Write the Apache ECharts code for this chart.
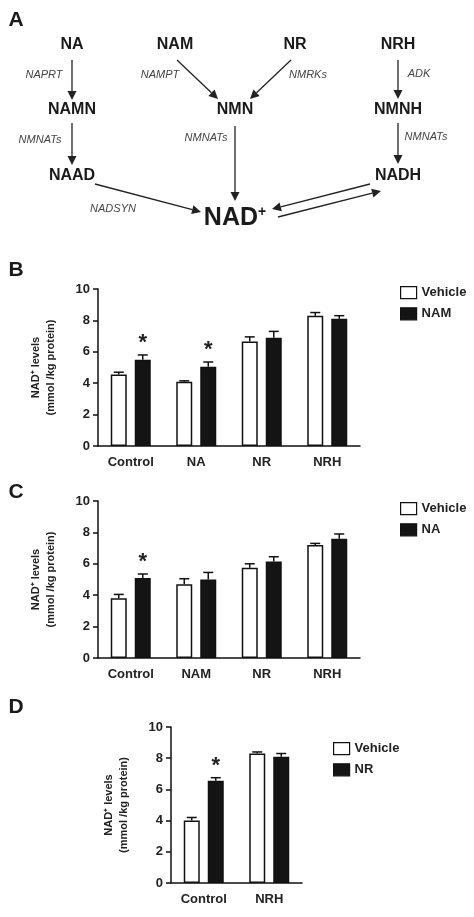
<!DOCTYPE html>
<html>
<head>
<meta charset="utf-8">
<script src="https://cdn.jsdelivr.net/npm/echarts@6/dist/echarts.min.js"></script>
<style>html,body{margin:0;padding:0;background:#fff}#main{width:474px;height:917px}</style>
</head>
<body>
<div id="main"></div>
<script>
// panel B
var catsB = ["Control", "NA", "NR", "NRH"];
var vehB = [4.55, 4.1, 6.65, 8.3];
var vehErrB = [0.15, 0.05, 0.3, 0.2];
var namB = [5.5, 5.05, 6.9, 8.1];
var namErrB = [0.3, 0.3, 0.4, 0.2];
var starB = [1, 1, 0, 0];
// panel C
var catsC = ["Control", "NAM", "NR", "NRH"];
var vehC = [3.8, 4.7, 5.75, 7.2];
var vehErrC = [0.25, 0.35, 0.25, 0.1];
var naC = [5.1, 5.0, 6.15, 7.6];
var naErrC = [0.25, 0.45, 0.3, 0.3];
var starC = [1, 0, 0, 0];
// panel D
var catsD = ["Control", "NRH"];
var vehD = [4.0, 8.3];
var vehErrD = [0.2, 0.1];
var nrD = [6.55, 8.1];
var nrErrD = [0.2, 0.2];
var starD = [1, 0];

var yTicks = [0, 2, 4, 6, 8, 10];

var myChart = echarts.init(document.getElementById("main"));
var font = "Liberation Sans, Arial, sans-serif";

function xAxisFor(gi, cats) {
  return {
    gridIndex: gi, type: "category", data: cats,
    axisLine: { lineStyle: { color: "#111", width: 1.5 } },
    axisTick: { alignWithLabel: true, length: 5, lineStyle: { color: "#111", width: 1.5 } },
    axisLabel: { color: "#222", fontWeight: "bold", fontSize: 13, fontFamily: font, margin: 10 }
  };
}
function yAxisFor(gi) {
  return {
    gridIndex: gi, type: "value", min: 0, max: 10, interval: 2,
    name: "NAD⁺ levels\n(mmol /kg protein)", nameLocation: "middle", nameGap: 40,
    nameTextStyle: { color: "#222", fontWeight: "bold", fontSize: 11, fontFamily: font, lineHeight: 15 },
    splitLine: { show: false },
    axisLine: { show: true, lineStyle: { color: "#111", width: 1.5 } },
    axisTick: { show: true, length: 5, lineStyle: { color: "#111", width: 1.5 } },
    axisLabel: { color: "#222", fontWeight: "bold", fontSize: 13, fontFamily: font,
      formatter: function (v) { return yTicks.indexOf(v) >= 0 ? String(v) : ""; } }
  };
}
function barSeries(gi, name, data, dark) {
  return {
    name: name, type: "bar", xAxisIndex: gi, yAxisIndex: gi, data: data,
    barWidth: 16, barGap: "50%",
    itemStyle: { color: dark ? "#141414" : "#fff", borderColor: "#111", borderWidth: 1.5 }
  };
}
// error caps + stars drawn from the same axes
function errSeries(gi, vals, errs, offset, stars) {
  return {
    type: "custom", xAxisIndex: gi, yAxisIndex: gi, z: 5, silent: true,
    data: vals.map(function (v, i) { return [i, v, v + errs[i], stars ? stars[i] : 0]; }),
    renderItem: function (params, api) {
      var base = api.coord([api.value(0), api.value(1)]);
      var top = api.coord([api.value(0), api.value(2)]);
      var x = base[0] + offset;
      var st = { stroke: "#111", lineWidth: 1.5 };
      var kids = [
        { type: "line", shape: { x1: x, y1: base[1], x2: x, y2: top[1] }, style: st },
        { type: "line", shape: { x1: x - 5, y1: top[1], x2: x + 5, y2: top[1] }, style: st }
      ];
      if (api.value(3)) {
        kids.push({ type: "text", style: { text: "*", x: x, y: top[1] - 1, textAlign: "center",
          textVerticalAlign: "bottom", fontSize: 22, fontWeight: "bold", fill: "#222", fontFamily: font } });
      }
      return { type: "group", children: kids };
    }
  };
}
function legendFor(top, left, names) {
  return {
    top: top, left: left, orient: "vertical", itemGap: 8, itemWidth: 16, itemHeight: 12, icon: "rect",
    data: names.map(function (n, i) {
      return { name: n, itemStyle: { color: i ? "#141414" : "#fff", borderColor: "#111", borderWidth: 1.2 } };
    }),
    selectedMode: false,
    textStyle: { color: "#222", fontWeight: "bold", fontSize: 13, fontFamily: font }
  };
}

function txt(x, y, s, size, bold, italic, color) {
  return { type: "text", x: x, y: y, style: { text: s, textAlign: "center", textVerticalAlign: "middle",
    fontSize: size, fontWeight: bold ? "bold" : "normal", fontStyle: italic ? "italic" : "normal",
    fill: color || "#1a1a1a", fontFamily: font } };
}
function arrow(x1, y1, x2, y2) {
  var a = Math.atan2(y2 - y1, x2 - x1), L = 9, W = 4.5;
  var bx = x2 - L * Math.cos(a), by = y2 - L * Math.sin(a);
  return [
    { type: "line", shape: { x1: x1, y1: y1, x2: bx, y2: by }, style: { stroke: "#222", lineWidth: 1.3 } },
    { type: "polygon", shape: { points: [[x2, y2],
      [bx - W * Math.sin(a), by + W * Math.cos(a)], [bx + W * Math.sin(a), by - W * Math.cos(a)]] },
      style: { fill: "#222" } }
  ];
}

var g = [
  txt(16, 20, "A", 21, true), txt(16, 270, "B", 21, true), txt(16, 492, "C", 21, true), txt(16, 707, "D", 21, true),
  txt(72, 45, "NA", 16, true), txt(175, 45, "NAM", 16, true), txt(295, 45, "NR", 16, true), txt(398, 45, "NRH", 16, true),
  txt(72, 110, "NAMN", 16, true), txt(235, 110, "NMN", 16, true), txt(398, 110, "NMNH", 16, true),
  txt(72, 176, "NAAD", 16, true), txt(398, 176, "NADH", 16, true),
  { type: "text", x: 235, y: 218, style: { text: "NAD{s|+}", rich: { s: { fontSize: 14, fontWeight: "bold", verticalAlign: "top", padding: [0, 0, 10, 0] } },
    textAlign: "center", textVerticalAlign: "middle", fontSize: 25, fontWeight: "bold", fill: "#1a1a1a", fontFamily: font } },
  txt(44, 75, "NAPRT", 11, false, true, "#444"), txt(160, 75, "NAMPT", 11, false, true, "#444"),
  txt(308, 75, "NMRKs", 11, false, true, "#444"), txt(419, 74, "ADK", 11, false, true, "#444"),
  txt(40, 140, "NMNATs", 11, false, true, "#444"), txt(206, 138, "NMNATs", 11, false, true, "#444"),
  txt(426, 137, "NMNATs", 11, false, true, "#444"), txt(113, 209, "NADSYN", 11, false, true, "#444")
];
g = g.concat(arrow(72, 60, 72, 100), arrow(177, 60, 218, 99), arrow(291, 60, 250, 99), arrow(398, 60, 398, 99),
  arrow(72, 123, 72, 165), arrow(235, 126, 235, 201), arrow(398, 123, 398, 164),
  arrow(95, 184, 201, 212), arrow(370, 184, 272, 209), arrow(278, 217, 381, 191));

var option = {
  animation: false,
  textStyle: { fontFamily: font },
  grid: [
    { left: 98, top: 289, width: 262, height: 157 },
    { left: 98, top: 501, width: 262, height: 157 },
    { left: 171, top: 727, width: 131, height: 156 }
  ],
  xAxis: [xAxisFor(0, catsB), xAxisFor(1, catsC), xAxisFor(2, catsD)],
  yAxis: [yAxisFor(0), yAxisFor(1), yAxisFor(2)],
  legend: [legendFor(281, 395, ["Vehicle", "NAM"]), legendFor(497, 395, ["Vehicle", "NA"]), legendFor(737, 328, ["Vehicle", "NR"])],
  graphic: g,
  series: [
    barSeries(0, "Vehicle", vehB, false), barSeries(0, "NAM", namB, true),
    errSeries(0, vehB, vehErrB, -12, null), errSeries(0, namB, namErrB, 12, starB),
    barSeries(1, "Vehicle", vehC, false), barSeries(1, "NA", naC, true),
    errSeries(1, vehC, vehErrC, -12, null), errSeries(1, naC, naErrC, 12, starC),
    barSeries(2, "Vehicle", vehD, false), barSeries(2, "NR", nrD, true),
    errSeries(2, vehD, vehErrD, -12, null), errSeries(2, nrD, nrErrD, 12, starD)
  ]
};
myChart.setOption(option);
</script>
</body>
</html>
